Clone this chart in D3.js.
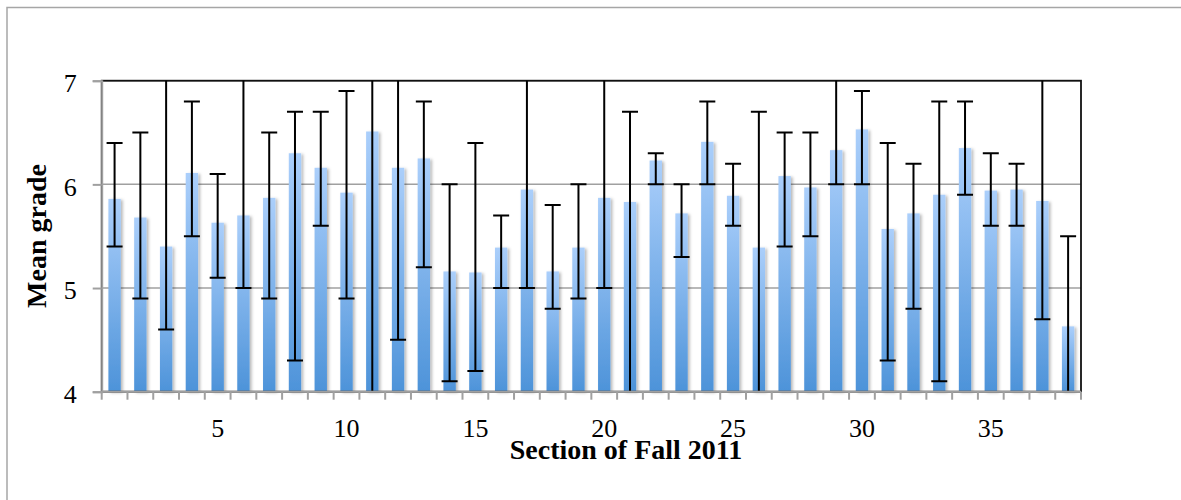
<!DOCTYPE html>
<html>
<head>
<meta charset="utf-8">
<script src="https://cdn.jsdelivr.net/npm/d3@7"></script>
<style>
  body { margin: 0; background: #fff; }
  text { font-family: "Liberation Serif", "DejaVu Serif", serif; }
</style>
</head>
<body>
<svg id="chart" width="1181" height="500"></svg>
<script>
// sections of Fall 2011
const sections = [1, 2, 3, 4, 5, 6, 7, 8, 9, 10, 11, 12, 13, 14, 15, 16, 17, 18, 19,
    20, 21, 22, 23, 24, 25, 26, 27, 28, 29, 30, 31, 32, 33, 34, 35, 36, 37, 38];
// mean grade per section
const means = [5.86, 5.68, 5.40, 6.11, 5.63, 5.70, 5.87, 6.30, 6.16, 5.92, 6.51, 6.16, 6.25,
    5.16, 5.15, 5.39, 5.95, 5.16, 5.39, 5.87, 5.83, 6.23, 5.72, 6.41, 5.89, 5.39,
    6.08, 5.97, 6.33, 6.53, 5.57, 5.72, 5.90, 6.35, 5.94, 5.95, 5.84, 4.63];
// error bar ends (values past 4 or 7 are cut off by the plot area)
const errLow = [5.4, 4.9, 4.6, 5.5, 5.1, 5.0, 4.9, 4.3, 5.6, 4.9, 3.9, 4.5, 5.2,
    4.1, 4.2, 5.0, 5.0, 4.8, 4.9, 5.0, 3.9, 6.0, 5.3, 6.0, 5.6, 3.9,
    5.4, 5.5, 6.0, 6.0, 4.3, 4.8, 4.1, 5.9, 5.6, 5.6, 4.7, 3.9];
const errHigh = [6.4, 6.5, 7.2, 6.8, 6.1, 7.2, 6.5, 6.7, 6.7, 6.9, 7.2, 7.2, 6.8,
    6.0, 6.4, 5.7, 7.2, 5.8, 6.0, 7.2, 6.7, 6.3, 6.0, 6.8, 6.2, 6.7,
    6.5, 6.5, 7.2, 6.9, 6.4, 6.2, 6.8, 6.8, 6.3, 6.2, 7.2, 5.5];
const yTicks = [4, 5, 6, 7];
const xTickLabels = [5, 10, 15, 20, 25, 30, 35];

const datos = sections.map((s, i) => ({
    section: s, mean: means[i], low: errLow[i], high: errHigh[i]
}));

const svg = d3.select("#chart");
const plotLeft = 101.7, plotRight = 1081, plotTop = 80.7, plotBottom = 391.7;

// outer frame
svg.append("rect")
    .attr("x", 7).attr("y", 7.5)
    .attr("width", 1300).attr("height", 700)
    .attr("fill", "none")
    .attr("stroke", "#a6a6a6")
    .attr("stroke-width", 1.5);

const escalaY = d3.scaleLinear().domain([4, 7]).range([plotBottom, plotTop]);
const escalaX = d3.scaleBand().domain(sections).range([plotLeft, plotRight]).padding(0);
const limites = d3.scaleLinear().domain([0.5, 38.5]).range([plotLeft, plotRight]);
const barW = escalaX.bandwidth() * 0.48;

const defs = svg.append("defs");
const grad = defs.append("linearGradient")
    .attr("id", "barGrad")
    .attr("x1", 0).attr("y1", 0).attr("x2", 0).attr("y2", 1);
grad.append("stop").attr("offset", "0%").attr("stop-color", "#abcffb");
grad.append("stop").attr("offset", "100%").attr("stop-color", "#4d93d9");

const sombra = defs.append("filter").attr("id", "sombra")
    .attr("x", "-50%").attr("y", "-10%").attr("width", "200%").attr("height", "120%");
sombra.append("feDropShadow")
    .attr("dx", 2).attr("dy", 1)
    .attr("stdDeviation", 1.6)
    .attr("flood-color", "#000")
    .attr("flood-opacity", 0.28);

defs.append("clipPath").attr("id", "plotClip")
    .append("rect")
    .attr("x", plotLeft).attr("y", plotTop)
    .attr("width", plotRight - plotLeft).attr("height", plotBottom - plotTop);

// gridlines
svg.append("g")
    .selectAll("line")
    .data(yTicks.filter(t => t > 4))
    .join("line")
    .attr("x1", plotLeft).attr("x2", plotRight)
    .attr("y1", d => escalaY(d)).attr("y2", d => escalaY(d))
    .attr("stroke", "#a0a0a0")
    .attr("stroke-width", 1.5);

// bars
svg.append("g")
    .selectAll("rect")
    .data(datos)
    .join("rect")
    .attr("x", d => escalaX(d.section) + (escalaX.bandwidth() - barW) / 2)
    .attr("width", barW)
    .attr("y", d => escalaY(d.mean))
    .attr("height", d => plotBottom - escalaY(d.mean))
    .attr("fill", "url(#barGrad)")
    .attr("filter", "url(#sombra)");

// plot area border (top and right are black)
svg.append("rect")
    .attr("x", plotLeft).attr("y", plotTop)
    .attr("width", plotRight - plotLeft).attr("height", plotBottom - plotTop)
    .attr("fill", "none")
    .attr("stroke", "#111")
    .attr("stroke-width", 1.8);

// error bars
const capW = 8;
const err = svg.append("g").attr("clip-path", "url(#plotClip)")
    .attr("stroke", "#000").attr("stroke-width", 2);
const centro = d => escalaX(d.section) + escalaX.bandwidth() / 2;
err.selectAll("line.stem")
    .data(datos)
    .join("line")
    .attr("class", "stem")
    .attr("x1", centro).attr("x2", centro)
    .attr("y1", d => escalaY(d.low)).attr("y2", d => escalaY(d.high));
err.selectAll("line.capHi")
    .data(datos)
    .join("line")
    .attr("class", "capHi")
    .attr("x1", d => centro(d) - capW).attr("x2", d => centro(d) + capW)
    .attr("y1", d => escalaY(d.high)).attr("y2", d => escalaY(d.high));
err.selectAll("line.capLo")
    .data(datos)
    .join("line")
    .attr("class", "capLo")
    .attr("x1", d => centro(d) - capW).attr("x2", d => centro(d) + capW)
    .attr("y1", d => escalaY(d.low)).attr("y2", d => escalaY(d.low));

// y axis
const ejeY = svg.append("g")
    .attr("transform", `translate(${plotLeft}, 0)`)
    .call(d3.axisLeft(escalaY).tickValues(yTicks).tickSize(9).tickPadding(16).tickFormat(d3.format("d")));
ejeY.select(".domain").attr("stroke", "#a0a0a0").attr("stroke-width", 2);
ejeY.selectAll(".tick line").attr("stroke", "#a0a0a0").attr("stroke-width", 2);
ejeY.selectAll(".tick text")
    .attr("font-family", "Liberation Serif, serif")
    .attr("font-size", 26)
    .attr("dy", "0.42em")
    .attr("fill", "#000");

// x axis line and ticks at category boundaries
svg.append("line")
    .attr("x1", plotLeft).attr("x2", plotRight)
    .attr("y1", plotBottom).attr("y2", plotBottom)
    .attr("stroke", "#a0a0a0").attr("stroke-width", 2);
svg.append("g")
    .selectAll("line")
    .data(d3.range(0.5, 39, 1))
    .join("line")
    .attr("x1", d => limites(d)).attr("x2", d => limites(d))
    .attr("y1", plotBottom).attr("y2", plotBottom + 8)
    .attr("stroke", "#a0a0a0").attr("stroke-width", 2);

const ejeX = svg.append("g")
    .attr("transform", `translate(0, ${plotBottom})`)
    .call(d3.axisBottom(escalaX).tickValues(xTickLabels).tickSize(0));
ejeX.select(".domain").remove();
ejeX.selectAll(".tick text")
    .attr("font-family", "Liberation Serif, serif")
    .attr("font-size", 26)
    .attr("y", 45).attr("dy", 0)
    .attr("fill", "#000");

// axis titles
svg.append("text")
    .text("Section of Fall 2011")
    .attr("x", 626).attr("y", 459)
    .attr("text-anchor", "middle")
    .attr("font-weight", "bold")
    .attr("font-size", 28)
    .attr("fill", "#000");
svg.append("text")
    .text("Mean grade")
    .attr("transform", "translate(46, 236) rotate(-90)")
    .attr("text-anchor", "middle")
    .attr("font-weight", "bold")
    .attr("font-size", 28)
    .attr("fill", "#000");
</script>
</body>
</html>
